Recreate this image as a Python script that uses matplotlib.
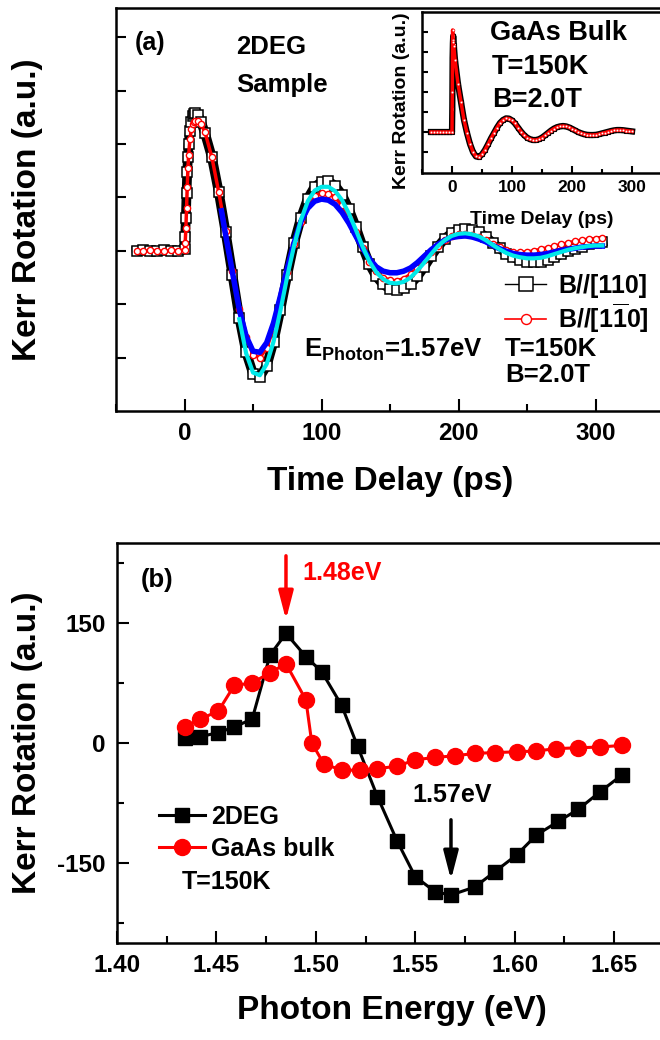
import matplotlib
matplotlib.use('Agg')
import matplotlib.pyplot as plt
from matplotlib.ticker import MultipleLocator

plt.rcParams['font.family'] = ['Liberation Sans', 'DejaVu Sans']
plt.rcParams['font.weight'] = 'bold'
plt.rcParams['mathtext.fontset'] = 'custom'
plt.rcParams['mathtext.rm'] = 'Liberation Sans:bold'
plt.rcParams['mathtext.bf'] = 'Liberation Sans:bold'
plt.rcParams['mathtext.it'] = 'Liberation Sans:bold'
plt.rcParams['axes.linewidth'] = 1.8
plt.rcParams['axes.unicode_minus'] = False
plt.rcParams['xtick.direction'] = 'in'
plt.rcParams['ytick.direction'] = 'in'

# ---- panel (a): TRKR traces, E_photon = 1.57 eV ----
t_main = [-35, -30, -25, -20, -15, -10, -5, 0, 0.5, 1,
          1.5, 2, 2.5, 3, 4, 5, 6, 7, 8, 10,
          12, 15, 20, 25, 30, 35, 40, 45, 50, 55,
          60, 65, 70, 75, 80, 85, 90, 95, 100, 105,
          110, 115, 120, 125, 130, 135, 140, 145, 150, 155,
          160, 165, 170, 175, 180, 185, 190, 195, 200, 205,
          210, 215, 220, 225, 230, 235, 240, 245, 250, 255,
          260, 265, 270, 275, 280, 285, 290, 295, 300, 305]

kerr_110 = [0, 0.01, -0.01, 0, 0.01, 0, 0, 0.03, 0.26, 0.62,
            1.08, 1.48, 1.76, 2.0, 2.25, 2.42, 2.52, 2.57, 2.58, 2.54,
            2.42, 2.2, 1.75, 1.1, 0.35, -0.45, -1.25, -1.9, -2.3, -2.36,
            -2.15, -1.7, -1.1, -0.45, 0.15, 0.62, 0.98, 1.2, 1.29, 1.3,
            1.22, 1.05, 0.78, 0.45, 0.08, -0.25, -0.48, -0.63, -0.71, -0.73,
            -0.7, -0.62, -0.48, -0.3, -0.1, 0.08, 0.23, 0.33, 0.39, 0.41,
            0.4, 0.35, 0.26, 0.15, 0.05, -0.05, -0.12, -0.17, -0.2, -0.21,
            -0.2, -0.17, -0.12, -0.06, -0.01, 0.04, 0.08, 0.12, 0.15, 0.17]

kerr_1m10 = [0, -0.01, 0.01, 0, -0.01, 0.01, 0, 0.02, 0.15, 0.42,
             0.8, 1.2, 1.55, 1.8, 2.1, 2.28, 2.37, 2.42, 2.44, 2.43,
             2.38, 2.22, 1.75, 1.1, 0.38, -0.38, -1.08, -1.62, -1.95, -2.0,
             -1.82, -1.45, -0.95, -0.4, 0.12, 0.55, 0.85, 1.02, 1.08, 1.07,
             1.0, 0.85, 0.62, 0.35, 0.06, -0.2, -0.38, -0.5, -0.55, -0.56,
             -0.52, -0.44, -0.32, -0.18, -0.03, 0.1, 0.2, 0.27, 0.31, 0.32,
             0.3, 0.26, 0.2, 0.13, 0.07, 0.02, -0.02, -0.03, -0.02, 0.0,
             0.03, 0.06, 0.09, 0.12, 0.15, 0.18, 0.2, 0.22, 0.23, 0.24]

t_fit_blue = [27, 30, 35, 40, 45, 50, 55, 60, 65, 70,
              75, 80, 85, 90, 95, 100, 105, 110, 115, 120,
              125, 130, 135, 140, 145, 150, 155, 160, 165, 170,
              175, 180, 185, 190, 195, 200, 205, 210, 215, 220,
              225, 230, 235, 240, 245, 250, 255, 260, 265, 270,
              275, 280, 285, 290, 295, 300, 305]
fit_blue = [0.75, 0.3, -0.4, -1.1, -1.6, -1.88, -1.9, -1.72, -1.35, -0.85,
            -0.33, 0.15, 0.55, 0.8, 0.93, 0.97, 0.95, 0.87, 0.72, 0.52,
            0.28, 0.05, -0.15, -0.3, -0.38, -0.41, -0.41, -0.38, -0.32, -0.22,
            -0.1, 0.02, 0.12, 0.2, 0.25, 0.27, 0.28, 0.26, 0.22, 0.17,
            0.1, 0.04, -0.01, -0.05, -0.07, -0.08, -0.08, -0.07, -0.05, -0.02,
            0.01, 0.03, 0.05, 0.07, 0.08, 0.09, 0.09]

t_fit_cyan = [40, 45, 50, 55, 60, 65, 70, 75, 80, 85,
              90, 95, 100, 105, 110, 115, 120, 125, 130, 135,
              140, 145, 150, 155, 160, 165, 170, 175, 180, 185,
              190, 195, 200, 205, 210, 215, 220, 225, 230, 235,
              240, 245, 250, 255, 260, 265, 270, 275, 280, 285,
              290, 295, 300, 305]
fit_cyan = [-1.28, -1.92, -2.28, -2.33, -2.12, -1.7, -1.12, -0.48, 0.1, 0.58,
            0.93, 1.13, 1.2, 1.2, 1.12, 0.95, 0.7, 0.4, 0.08, -0.2,
            -0.4, -0.53, -0.6, -0.61, -0.58, -0.5, -0.37, -0.22, -0.06, 0.09,
            0.2, 0.28, 0.32, 0.33, 0.31, 0.27, 0.2, 0.11, 0.03, -0.04,
            -0.09, -0.12, -0.14, -0.14, -0.13, -0.1, -0.06, -0.02, 0.02, 0.05,
            0.07, 0.09, 0.1, 0.1]

# ---- inset: GaAs bulk ----
t_in = [-35, -30, -25, -20, -15, -10, -5, 0, 0.5, 1,
        1.5, 2, 3, 5, 10, 15, 20, 25, 30, 35,
        40, 45, 50, 55, 60, 65, 70, 75, 80, 85,
        90, 95, 100, 105, 110, 115, 120, 125, 130, 135,
        140, 145, 150, 155, 160, 165, 170, 175, 180, 185,
        190, 195, 200, 205, 210, 215, 220, 225, 230, 235,
        240, 245, 250, 255, 260, 265, 270, 275, 280, 285,
        290, 295, 300]
bulk_110 = [0, 0, 0, 0, 0, 0, 0, 0, 1.15, 3.7,
            4.45, 4.8, 4.35, 3.6, 2.4, 1.5, 0.6, -0.05, -0.6, -1.0,
            -1.22, -1.25, -1.12, -0.9, -0.62, -0.32, -0.05, 0.22, 0.45, 0.6,
            0.68, 0.67, 0.58, 0.43, 0.22, 0.02, -0.15, -0.28, -0.36, -0.4,
            -0.4, -0.36, -0.28, -0.17, -0.05, 0.07, 0.17, 0.24, 0.28, 0.3,
            0.28, 0.23, 0.16, 0.08, 0.0, -0.06, -0.11, -0.14, -0.15, -0.15,
            -0.14, -0.11, -0.07, -0.03, 0.01, 0.05, 0.08, 0.1, 0.1, 0.09,
            0.07, 0.05, 0.03]
bulk_1m10 = [0, 0, 0, 0, 0, 0, 0, 0, 2.0, 5.1,
             4.6, 4.5, 4.3, 3.6, 2.4, 1.5, 0.6, -0.05, -0.6, -1.0,
             -1.22, -1.25, -1.12, -0.9, -0.62, -0.32, -0.05, 0.22, 0.45, 0.6,
             0.68, 0.67, 0.58, 0.43, 0.22, 0.02, -0.15, -0.28, -0.36, -0.4,
             -0.4, -0.36, -0.28, -0.17, -0.05, 0.07, 0.17, 0.24, 0.28, 0.3,
             0.28, 0.23, 0.16, 0.08, 0.0, -0.06, -0.11, -0.14, -0.15, -0.15,
             -0.14, -0.11, -0.07, -0.03, 0.01, 0.05, 0.08, 0.1, 0.1, 0.09,
             0.07, 0.05, 0.03]

# ---- panel (b): amplitude vs photon energy ----
E_2deg = [1.434, 1.442, 1.451, 1.459, 1.468, 1.477, 1.485, 1.495, 1.503, 1.513,
          1.521, 1.531, 1.541, 1.550, 1.560, 1.568, 1.580, 1.590, 1.601, 1.611,
          1.622, 1.632, 1.643, 1.654]
kerr_2deg = [6, 8, 13, 20, 30, 110, 137, 108, 89, 47,
             -4, -67, -123, -167, -186, -190, -180, -161, -140, -115,
             -98, -83, -61, -40]
E_bulk = [1.434, 1.442, 1.451, 1.459, 1.468, 1.477, 1.485, 1.495, 1.498, 1.504,
          1.513, 1.522, 1.531, 1.541, 1.550, 1.560, 1.570, 1.580, 1.590, 1.601,
          1.611, 1.621, 1.632, 1.643, 1.654]
kerr_bulk = [20, 30, 40, 72, 75, 88, 99, 54, 0, -26,
             -34, -34, -32, -29, -21, -18, -16, -13, -12, -11,
             -10, -7, -6, -5, -3]

W, H = 660, 1040
fig = plt.figure(figsize=(6.6, 10.4), dpi=100)

def box(l, t, r, b):
    return [l / W, 1 - b / H, (r - l) / W, (b - t) / H]

# ================= (a) =================
ax = fig.add_axes(box(116, 8, 664, 411))
ax.plot(t_main, kerr_110, color='k', lw=7, zorder=1)
l1, = ax.plot(t_main, kerr_110, color='k', lw=1, marker='s', ms=6.5,
              mfc='white', mec='k', mew=1.1, label='B//[110]', zorder=2)
ax.plot(t_main, kerr_1m10, color='red', lw=2.5, zorder=3)
l2, = ax.plot(t_main, kerr_1m10, color='red', lw=1.2, marker='o', ms=4.5,
              mfc='white', mec='red', mew=1, label=r'B//[1$\overline{1}$0]', zorder=4)
ax.plot(t_fit_blue, fit_blue, color='#0000ff', lw=4, zorder=5)
ax.plot(t_fit_cyan, fit_cyan, color='#00e8e8', lw=3.0, zorder=6)

ax.set_xlim(-50, 350)
ax.set_ylim(-3.0, 4.55)
ax.xaxis.set_major_locator(MultipleLocator(100))
ax.xaxis.set_minor_locator(MultipleLocator(50))
ax.set_yticks(range(-2, 5))
ax.set_yticklabels([])
ax.tick_params(axis='x', which='major', length=8.5, width=1.5, labelsize=17.5, pad=8)
ax.tick_params(axis='x', which='minor', length=5, width=1.5)
ax.tick_params(axis='y', which='major', length=7, width=1.5)
ax.spines['right'].set_visible(False)

ax.set_xlabel('Time Delay (ps)', fontsize=24, fontweight='bold')
ax.xaxis.label.set_va('center')
ax.xaxis.set_label_coords(0.5, (411 - 482) / 403)
ax.set_ylabel('Kerr Rotation (a.u.)', fontsize=24, fontweight='bold')
ax.yaxis.label.set_va('center')
ax.yaxis.set_label_coords((28 - 116) / 548, 0.5)

ax.text(-36, 3.89, '(a)', fontsize=18, va='center', ha='left')
ax.text(37.6, 3.81, '2DEG', fontsize=18.5, va='center', ha='left')
ax.text(37.6, 3.1, 'Sample', fontsize=18.5, va='center', ha='left')
ax.text(87, -1.98, r'E$_{\mathrm{Photon}}$=1.57eV', fontsize=18.5, va='baseline', ha='left')
ax.text(234, -1.83, 'T=150K', fontsize=18.5, va='center', ha='left')
ax.text(234, -2.32, 'B=2.0T', fontsize=18.5, va='center', ha='left')

ax.legend(handles=[l1, l2], loc='upper left',
          bbox_to_anchor=((505 - 116) / 548, (411 - 274) / 403),
          frameon=False, fontsize=18, handlelength=1.64, handletextpad=0.5,
          borderpad=0, borderaxespad=0, labelspacing=0.15, numpoints=1,
          markerscale=1.6)

# ================= inset =================
axi = fig.add_axes(box(422, 12, 662, 173))
axi.plot(t_in, bulk_110, color='k', lw=4.5, zorder=1)
axi.plot(t_in, bulk_110, color='k', lw=1, marker='s', ms=3.5,
         mfc='white', mec='k', mew=0.8, zorder=2)
axi.plot(t_in, bulk_1m10, color='red', lw=2.5, zorder=3)
axi.plot(t_in, bulk_1m10, color='red', lw=1, marker='o', ms=2,
         mfc='white', mec='red', mew=0.5, zorder=4)
axi.set_xlim(-50, 350)
axi.set_ylim(-2.05, 6.0)
axi.xaxis.set_major_locator(MultipleLocator(100))
axi.xaxis.set_minor_locator(MultipleLocator(50))
axi.set_yticks(range(-1, 6))
axi.set_yticklabels([])
axi.tick_params(axis='x', which='major', length=5, width=1.5, labelsize=12.5, pad=5)
axi.tick_params(axis='x', which='minor', length=3, width=1.5)
axi.tick_params(axis='y', which='major', length=4, width=1.5)
axi.spines['right'].set_visible(False)
axi.set_xlabel('Time Delay (ps)', fontsize=14, fontweight='bold')
axi.xaxis.label.set_va('center')
axi.xaxis.set_label_coords(0.5, (173 - 220) / 161)
axi.set_ylabel('Kerr Rotation (a.u.)', fontsize=14, fontweight='bold')
axi.yaxis.label.set_va('center')
axi.yaxis.set_label_coords((402 - 422) / 240, (173 - 101) / 161)
axi.text(63, 4.95, 'GaAs Bulk', fontsize=19.5, va='center', ha='left')
axi.text(67, 3.25, 'T=150K', fontsize=19.5, va='center', ha='left')
axi.text(67, 1.6, 'B=2.0T', fontsize=19.5, va='center', ha='left')

# ================= (b) =================
bx = fig.add_axes(box(117, 543, 664, 943))
b1, = bx.plot(E_2deg, kerr_2deg, color='k', lw=2.2, marker='s', ms=10.5,
              mec='k', mfc='k', label='2DEG', zorder=2)
b2, = bx.plot(E_bulk, kerr_bulk, color='red', lw=2.2, marker='o', ms=11.5,
              mec='red', mfc='red', label='GaAs bulk', zorder=3)
bx.set_xlim(1.40, 1.40 + 547 / 1988)
bx.set_ylim(-250, 250)
bx.xaxis.set_major_locator(MultipleLocator(0.05))
bx.xaxis.set_minor_locator(MultipleLocator(0.025))
bx.yaxis.set_major_locator(MultipleLocator(150))
bx.yaxis.set_minor_locator(MultipleLocator(75))
bx.xaxis.set_major_formatter(matplotlib.ticker.FormatStrFormatter('%.2f'))
bx.tick_params(which='major', length=8.5, width=1.5, labelsize=17.5, pad=8)
bx.tick_params(which='minor', length=5, width=1.5)
bx.spines['right'].set_visible(False)

bx.set_xlabel('Photon Energy (eV)', fontsize=24, fontweight='bold')
bx.xaxis.label.set_va('center')
bx.xaxis.set_label_coords((392 - 117) / 547, (943 - 1010) / 400)
bx.set_ylabel('Kerr Rotation (a.u.)', fontsize=24, fontweight='bold')
bx.yaxis.label.set_va('center')
bx.yaxis.set_label_coords((28 - 117) / 547, 0.5)

bx.text(1.412, 204, '(b)', fontsize=18.5, va='center', ha='left')
bx.annotate('', xy=(1.485, 154), xytext=(1.485, 234),
            arrowprops=dict(arrowstyle='-|>,head_width=0.22,head_length=0.85',
                            color='red', lw=2.5, mutation_scale=20,
                            shrinkA=0, shrinkB=0))
bx.text(1.493, 212, '1.48eV', color='red', fontsize=18, va='center', ha='left')
bx.annotate('', xy=(1.568, -171), xytext=(1.568, -96),
            arrowprops=dict(arrowstyle='-|>,head_width=0.22,head_length=0.85',
                            color='k', lw=2.5, mutation_scale=20,
                            shrinkA=0, shrinkB=0))
bx.text(1.5685, -65, '1.57eV', fontsize=18, va='center', ha='center')
bx.text(1.4327, -174, 'T=150K', fontsize=18, va='center', ha='left')

bx.legend(handles=[b1, b2], loc='upper left',
          bbox_to_anchor=((159 - 117) / 547, (943 - 805) / 400),
          frameon=False, fontsize=18, handlelength=1.84, handletextpad=0.25,
          borderpad=0, borderaxespad=0, labelspacing=0.3, numpoints=1)

fig.savefig('out.png', dpi=100)
